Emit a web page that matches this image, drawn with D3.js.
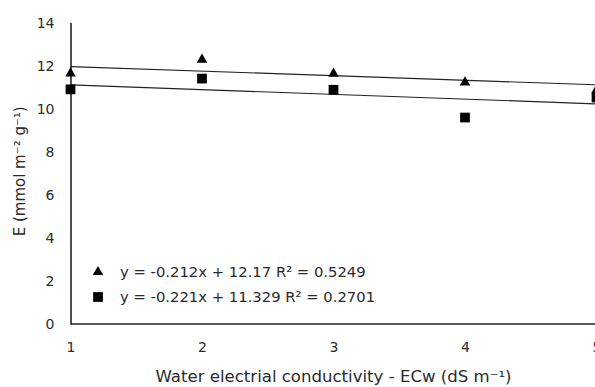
<!DOCTYPE html>
<html>
<head>
<meta charset="utf-8">
<script src="https://cdn.jsdelivr.net/npm/d3@7"></script>
<style>
  body { margin: 0; background: #fff; }
  svg text { font-family: "Century Gothic", "DejaVu Sans", sans-serif; fill: #2a2a2a; }
</style>
</head>
<body>
<div id="chart"></div>
<script>
// data
var ecw = [1, 2, 3, 4, 5];
var triangleE = [11.64, 12.28, 11.63, 11.22, 10.87];
var squareE = [10.9, 11.4, 10.88, 9.59, 10.52];
var yTicks = [0, 2, 4, 6, 8, 10, 12, 14];
var xTicks = [1, 2, 3, 4, 5];
var fits = [
    {slope: -0.212, intercept: 12.17, label: "y = -0.212x + 12.17 R\u00b2 = 0.5249"},
    {slope: -0.221, intercept: 11.329, label: "y = -0.221x + 11.329 R\u00b2 = 0.2701"}
];

var width = 595, height = 387;
var margin = {top: 22.6, left: 70.5, bottom: 63};

var svg = d3.select("#chart").append("svg")
    .attr("width", width)
    .attr("height", height);

var x = d3.scaleLinear().domain([1, 5]).range([margin.left, 596.5]);
var y = d3.scaleLinear().domain([0, 14]).range([height - margin.bottom, margin.top]);

// axes (no tick marks in the original)
var xAxis = svg.append("g")
    .attr("transform", "translate(0," + y(0) + ")")
    .call(d3.axisBottom(x).tickValues(xTicks).tickSize(0).tickPadding(18).tickFormat(d3.format("d")));
xAxis.select(".domain").attr("stroke", "#222").attr("stroke-width", 1.6).attr("d", "M" + x(1) + ",0H" + width);
xAxis.selectAll("text").attr("font-size", 14).attr("fill", "#2a2a2a");

var yAxis = svg.append("g")
    .attr("transform", "translate(" + x(1) + ",0)")
    .call(d3.axisLeft(y).tickValues(yTicks).tickSize(0).tickPadding(16));
yAxis.select(".domain").attr("stroke", "#222").attr("stroke-width", 1.6);
yAxis.selectAll("text").attr("font-size", 14).attr("fill", "#2a2a2a");

// trend lines
var line = d3.line().x(function (d) { return x(d[0]); }).y(function (d) { return y(d[1]); });
fits.forEach(function (f) {
    svg.append("path")
        .attr("d", line([[1, f.intercept + f.slope], [5, f.intercept + f.slope * 5]]))
        .attr("stroke", "#222")
        .attr("stroke-width", 1.2)
        .attr("fill", "none");
});

// points
var tri = d3.symbol().type(d3.symbolTriangle).size(48);
var sq = d3.symbol().type(d3.symbolSquare).size(95);

svg.selectAll(".tri").data(ecw).enter().append("path")
    .attr("d", tri)
    .attr("transform", function (d, i) { return "translate(" + x(d) + "," + y(triangleE[i]) + ")"; })
    .attr("fill", "#000");

svg.selectAll(".sq").data(ecw).enter().append("path")
    .attr("d", sq)
    .attr("transform", function (d, i) { return "translate(" + x(d) + "," + y(squareE[i]) + ")"; })
    .attr("fill", "#000");

// legend
fits.forEach(function (f, i) {
    var ly = 272 + i * 25;
    svg.append("path")
        .attr("d", i === 0 ? tri() : sq())
        .attr("transform", "translate(98," + ly + ")")
        .attr("fill", "#000");
    svg.append("text")
        .attr("x", 120)
        .attr("y", ly + 5)
        .attr("font-size", 14.8)
        .text(f.label);
});

// axis titles
svg.append("text")
    .attr("x", x(3))
    .attr("y", 382)
    .attr("text-anchor", "middle")
    .attr("font-size", 16)
    .attr("textLength", 356)
    .attr("lengthAdjust", "spacingAndGlyphs")
    .text("Water electrial conductivity - ECw (dS m\u207b\u00b9)");

svg.append("text")
    .attr("transform", "translate(25," + (y(7) - 2) + ") rotate(-90)")
    .attr("text-anchor", "middle")
    .attr("font-size", 15)
    .text("E (mmol m\u207b\u00b2 g\u207b\u00b9)");
</script>
</body>
</html>
